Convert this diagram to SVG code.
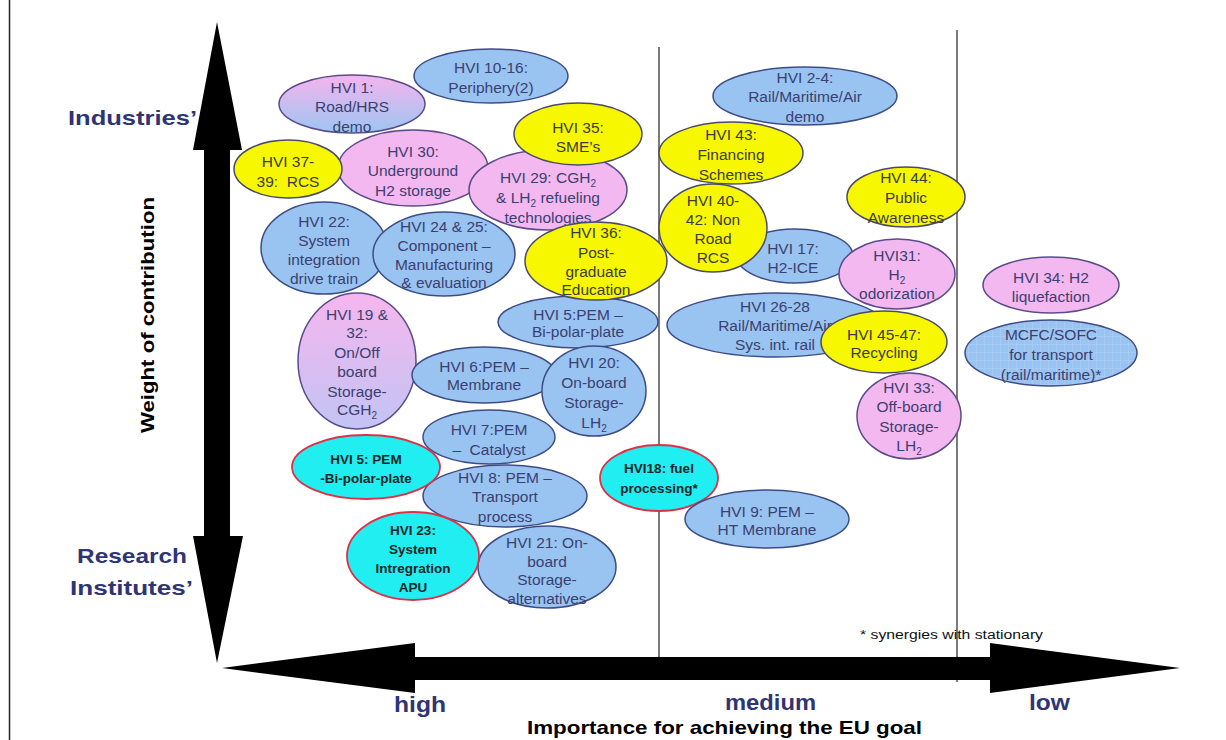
<svg xmlns="http://www.w3.org/2000/svg" width="1226" height="740" viewBox="0 0 1226 740">
<defs>
<style>
.b{fill:#99c3f0;stroke:#3e4c86;stroke-width:1.5}
.p{fill:#f3b8f0;stroke:#5a4c8a;stroke-width:1.5}
.y{fill:#f7f700;stroke:#4a4a6a;stroke-width:1.5}
.c{fill:#20eef0;stroke:#e03048;stroke-width:1.8}
.t{font-family:"Liberation Sans",Arial,sans-serif;font-size:15.5px;fill:#3b4070;text-anchor:middle}
.ty{fill:#3c3c3c}
.tc{font-weight:bold;font-size:13.5px;fill:#142626}
.s{font-size:10px}
.ax{font-family:"Liberation Sans",Arial,sans-serif;font-weight:bold;fill:#2f3475}
.div{stroke:#333;stroke-width:1.3;fill:none}
</style>
<linearGradient id="gPB" x1="0" y1="0" x2="0" y2="1">
<stop offset="0" stop-color="#f5b4ee"/>
<stop offset="1" stop-color="#9cc6f2"/>
</linearGradient>
<linearGradient id="gPL" x1="0" y1="0" x2="0" y2="1">
<stop offset="0" stop-color="#f6b6ee"/>
<stop offset="1" stop-color="#c2c4f4"/>
</linearGradient>
<pattern id="grid" width="8" height="8" patternUnits="userSpaceOnUse">
<rect width="8" height="8" fill="#99c3f0"/>
<path d="M0 0H8M0 0V8" stroke="#b2d2f6" stroke-width="1"/>
</pattern>
</defs>
<rect width="1226" height="740" fill="#ffffff"/>
<line x1="9.5" y1="0" x2="9.5" y2="740" stroke="#222" stroke-width="1.5"/>

<g id="connectors">
<line class="div" x1="659" y1="47" x2="659" y2="658"/>
<line class="div" x1="957" y1="30" x2="957" y2="682"/>
<polygon id="axis-y" fill="#000" points="217,22 242,150 230,150 230,536 243,536 217,663 193,536 204,536 204,150 193,150"/>
<polygon id="axis-x" fill="#000" points="222,668 415,643 415,657 990,657 990,643 1180,668 990,693 990,680 415,680 415,693"/>
</g>

<g id="labels">
<text class="ax" x="68" y="125" font-size="21" textLength="129" lengthAdjust="spacingAndGlyphs">Industries’</text>
<text class="ax" x="77" y="563" font-size="21" textLength="110" lengthAdjust="spacingAndGlyphs">Research</text>
<text class="ax" x="70" y="595" font-size="21" textLength="123" lengthAdjust="spacingAndGlyphs">Institutes’</text>
<text x="0" y="0" transform="translate(154,315) rotate(-90)" font-family="Liberation Sans,Arial,sans-serif" font-weight="bold" font-size="18" fill="#000" text-anchor="middle" textLength="236" lengthAdjust="spacingAndGlyphs">Weight of contribution</text>
<text class="ax" x="394" y="712" font-size="22" textLength="52" lengthAdjust="spacingAndGlyphs">high</text>
<text class="ax" x="725" y="710" font-size="22" textLength="91" lengthAdjust="spacingAndGlyphs">medium</text>
<text class="ax" x="1029" y="710" font-size="22" textLength="41" lengthAdjust="spacingAndGlyphs">low</text>
<text x="527" y="734" font-family="Liberation Sans,Arial,sans-serif" font-weight="bold" font-size="19" fill="#000" textLength="395" lengthAdjust="spacingAndGlyphs">Importance for achieving the EU goal</text>
<text x="860" y="639" font-family="Liberation Sans,Arial,sans-serif" font-size="12.5" fill="#111" textLength="183" lengthAdjust="spacingAndGlyphs">* synergies with stationary</text>
</g>

<g id="hvi10"><ellipse class="b" cx="491" cy="76" rx="77" ry="27"/>
<text class="t"><tspan x="491" y="73">HVI 10-16:</tspan><tspan x="491" y="93">Periphery(2)</tspan></text></g>

<g id="hvi30"><ellipse class="p" cx="413" cy="168" rx="75" ry="38"/>
<text class="t"><tspan x="413" y="157">HVI 30:</tspan><tspan x="413" y="176">Underground</tspan><tspan x="413" y="196">H2 storage</tspan></text></g>

<g id="hvi1"><ellipse class="p" style="fill:url(#gPB)" cx="352" cy="104" rx="73" ry="29"/>
<text class="t"><tspan x="352" y="93">HVI 1:</tspan><tspan x="352" y="112">Road/HRS</tspan><tspan x="352" y="132">demo</tspan></text></g>

<g id="hvi29"><ellipse class="p" cx="548" cy="190" rx="79" ry="40"/>
<text class="t"><tspan x="548" y="183">HVI 29: CGH<tspan class="s" dy="4">2</tspan></tspan><tspan x="548" y="203">&amp; LH<tspan class="s" dy="4">2</tspan><tspan dy="-4"> refueling</tspan></tspan><tspan x="548" y="223">technologies</tspan></text></g>

<g id="hvi35"><ellipse class="y" cx="578" cy="134" rx="64" ry="31"/>
<text class="t ty"><tspan x="578" y="133">HVI 35:</tspan><tspan x="578" y="152">SME’s</tspan></text></g>

<g id="hvi37"><ellipse class="y" cx="288" cy="169" rx="54" ry="29"/>
<text class="t ty"><tspan x="288" y="167">HVI 37-</tspan><tspan x="288" y="187">39:&#160; RCS</tspan></text></g>

<g id="hvi22"><ellipse class="b" cx="324" cy="248" rx="63" ry="46"/>
<text class="t"><tspan x="324" y="227">HVI 22:</tspan><tspan x="324" y="246">System</tspan><tspan x="324" y="265">integration</tspan><tspan x="324" y="284">drive train</tspan></text></g>

<g id="hvi24"><ellipse class="b" cx="444" cy="254" rx="71" ry="42"/>
<text class="t"><tspan x="444" y="232">HVI 24 &amp; 25:</tspan><tspan x="444" y="251">Component –</tspan><tspan x="444" y="270">Manufacturing</tspan><tspan x="444" y="288">&amp; evaluation</tspan></text></g>

<g id="hvi5pem"><ellipse class="b" cx="578" cy="322" rx="80" ry="26"/>
<text class="t"><tspan x="578" y="320">HVI 5:PEM –</tspan><tspan x="578" y="337">Bi-polar-plate</tspan></text></g>

<g id="hvi36"><ellipse class="y" cx="596" cy="261" rx="71" ry="39"/>
<text class="t ty"><tspan x="596" y="238">HVI 36:</tspan><tspan x="596" y="258">Post-</tspan><tspan x="596" y="277">graduate</tspan><tspan x="596" y="295">Education</tspan></text></g>

<g id="hvi19"><ellipse class="p" style="fill:url(#gPL)" cx="357" cy="361" rx="59" ry="68"/>
<text class="t"><tspan x="357" y="320">HVI 19 &amp;</tspan><tspan x="357" y="338">32:</tspan><tspan x="357" y="358">On/Off</tspan><tspan x="357" y="377">board</tspan><tspan x="357" y="397">Storage-</tspan><tspan x="357" y="415">CGH<tspan class="s" dy="4">2</tspan></tspan></text></g>

<g id="hvi6"><ellipse class="b" cx="484" cy="375" rx="72" ry="28"/>
<text class="t"><tspan x="484" y="372">HVI 6:PEM –</tspan><tspan x="484" y="390">Membrane</tspan></text></g>

<g id="hvi20"><ellipse class="b" cx="594" cy="391" rx="52" ry="45"/>
<text class="t"><tspan x="594" y="368">HVI 20:</tspan><tspan x="594" y="388">On-board</tspan><tspan x="594" y="408">Storage-</tspan><tspan x="594" y="428">LH<tspan class="s" dy="4">2</tspan></tspan></text></g>

<g id="hvi7"><ellipse class="b" cx="489" cy="437" rx="66" ry="27"/>
<text class="t"><tspan x="489" y="435">HVI 7:PEM</tspan><tspan x="489" y="455">–&#160; Catalyst</tspan></text></g>

<g id="hvi8"><ellipse class="b" cx="505" cy="496" rx="82" ry="31"/>
<text class="t"><tspan x="505" y="483">HVI 8: PEM –</tspan><tspan x="505" y="502">Transport</tspan><tspan x="505" y="522">process</tspan></text></g>

<g id="hvi5bp"><ellipse class="c" cx="366" cy="467" rx="74" ry="32"/>
<text class="t tc"><tspan x="366" y="464">HVI 5: PEM</tspan><tspan x="366" y="483">-Bi-polar-plate</tspan></text></g>

<g id="hvi21"><ellipse class="b" cx="547" cy="567" rx="69" ry="41"/>
<text class="t"><tspan x="547" y="548">HVI 21: On-</tspan><tspan x="547" y="567">board</tspan><tspan x="547" y="585">Storage-</tspan><tspan x="547" y="604">alternatives</tspan></text></g>

<g id="hvi23"><ellipse class="c" cx="413" cy="556" rx="66" ry="44"/>
<text class="t tc"><tspan x="413" y="535">HVI 23:</tspan><tspan x="413" y="554">System</tspan><tspan x="413" y="573">Intregration</tspan><tspan x="413" y="592">APU</tspan></text></g>

<g id="hvi18"><ellipse class="c" cx="659" cy="478" rx="59" ry="33"/>
<text class="t tc"><tspan x="659" y="473">HVI18: fuel</tspan><tspan x="659" y="493">processing*</tspan></text></g>

<g id="hvi9"><ellipse class="b" cx="767" cy="519" rx="82" ry="29"/>
<text class="t"><tspan x="767" y="517">HVI 9: PEM –</tspan><tspan x="767" y="535">HT Membrane</tspan></text></g>

<g id="hvi2"><ellipse class="b" cx="805" cy="96" rx="92" ry="29"/>
<text class="t"><tspan x="805" y="83">HVI 2-4:</tspan><tspan x="805" y="102">Rail/Maritime/Air</tspan><tspan x="805" y="122">demo</tspan></text></g>

<g id="hvi43"><ellipse class="y" cx="731" cy="153" rx="72" ry="31"/>
<text class="t ty"><tspan x="731" y="140">HVI 43:</tspan><tspan x="731" y="160">Financing</tspan><tspan x="731" y="180">Schemes</tspan></text></g>

<g id="hvi17"><ellipse class="b" cx="795" cy="256" rx="58" ry="27"/>
<text class="t"><tspan x="793" y="254">HVI 17:</tspan><tspan x="793" y="273">H2-ICE</tspan></text></g>

<g id="hvi40"><ellipse class="y" cx="713" cy="228" rx="54" ry="44"/>
<text class="t ty"><tspan x="713" y="206">HVI 40-</tspan><tspan x="713" y="225">42: Non</tspan><tspan x="713" y="244">Road</tspan><tspan x="713" y="263">RCS</tspan></text></g>

<g id="hvi44"><ellipse class="y" cx="906" cy="197" rx="59" ry="30"/>
<text class="t ty"><tspan x="906" y="183">HVI 44:</tspan><tspan x="906" y="203">Public</tspan><tspan x="906" y="223">Awareness</tspan></text></g>

<g id="hvi31"><ellipse class="p" cx="897" cy="274" rx="58" ry="35"/>
<text class="t"><tspan x="897" y="261">HVI31:</tspan><tspan x="897" y="280">H<tspan class="s" dy="4">2</tspan></tspan><tspan x="897" y="299">odorization</tspan></text></g>

<g id="hvi26"><ellipse class="b" cx="775" cy="325" rx="108" ry="32"/>
<text class="t"><tspan x="775" y="312">HVI 26-28</tspan><tspan x="775" y="331">Rail/Maritime/Air</tspan><tspan x="775" y="350">Sys. int. rail</tspan></text></g>

<g id="hvi45"><ellipse class="y" cx="884" cy="342" rx="63" ry="31"/>
<text class="t ty"><tspan x="884" y="340">HVI 45-47:</tspan><tspan x="884" y="358">Recycling</tspan></text></g>

<g id="hvi33"><ellipse class="p" cx="909" cy="416" rx="52" ry="43"/>
<text class="t"><tspan x="909" y="393">HVI 33:</tspan><tspan x="909" y="412">Off-board</tspan><tspan x="909" y="432">Storage-</tspan><tspan x="909" y="451">LH<tspan class="s" dy="4">2</tspan></tspan></text></g>

<g id="hvi34"><ellipse class="p" cx="1051" cy="285" rx="68" ry="28"/>
<text class="t"><tspan x="1051" y="283">HVI 34: H2</tspan><tspan x="1051" y="302">liquefaction</tspan></text></g>

<g id="mcfc"><ellipse class="b" style="fill:url(#grid)" cx="1051" cy="353" rx="86" ry="33"/>
<text class="t"><tspan x="1051" y="340">MCFC/SOFC</tspan><tspan x="1051" y="360">for transport</tspan><tspan x="1051" y="380">(rail/maritime)*</tspan></text></g>
</svg>
